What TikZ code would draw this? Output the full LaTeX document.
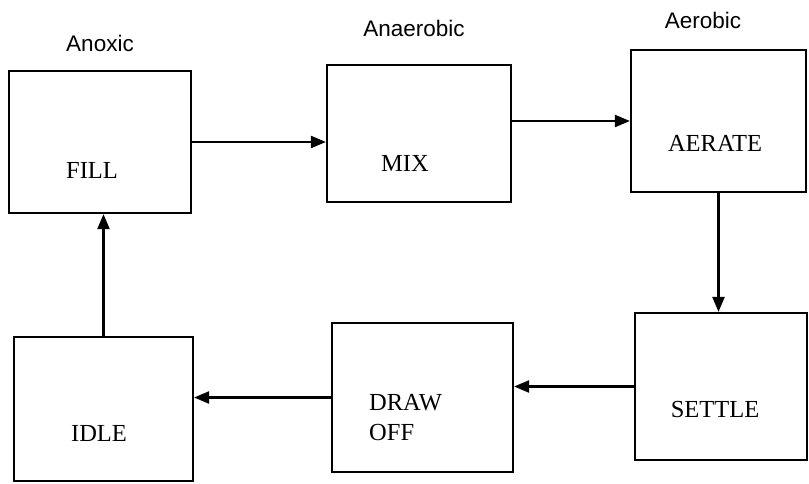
\documentclass[tikz,border=0pt]{standalone}
\usepackage{fontspec}
\setmainfont{Liberation Serif}
\setsansfont{Liberation Sans}
\usepackage{xcolor}
\usetikzlibrary{positioning,arrows.meta}

\begin{document}
\begin{tikzpicture}[x=1pt, y=-1pt,
  phase/.style={draw, line width=2.2pt, rectangle, inner sep=0pt},
  steptext/.style={font=\fontsize{24.5}{30}\selectfont, inner sep=0pt},
  condition/.style={font=\sffamily\fontsize{22.5}{26}\selectfont, inner sep=0pt},
  flow/.style={-{Triangle[length=15pt,width=12pt]}, line width=2.2pt},
]
  \useasboundingbox (0,0) rectangle (809,483);

  % Phase boxes
  \node[phase, minimum width=182pt, minimum height=142pt] (fill) at (100,142) {};
  \node[phase, minimum width=184pt, minimum height=137pt] (mix) at (419,133.5) {};
  \node[phase, minimum width=175pt, minimum height=142pt] (aerate) at (718.5,121) {};
  \node[phase, minimum width=172pt, minimum height=147pt] (settle) at (721,386.5) {};
  \node[phase, minimum width=181pt, minimum height=149pt] (drawoff) at (422.5,397.5) {};
  \node[phase, minimum width=179pt, minimum height=144pt] (idle) at (103.5,409) {};

  % Box texts
  \node[steptext] (filltxt) at (92,170) {FILL};
  \node[steptext] (mixtxt) at (405,163) {MIX};
  \node[steptext] (aeratetxt) at (715,143) {AERATE};
  \node[steptext] (settletxt) at (715,410) {SETTLE};
  \node[steptext, anchor=west, align=left] (drawofftxt) at (369,418) {DRAW\\OFF};
  \node[steptext] (idletxt) at (99,433) {IDLE};

  % Conditions
  \node[condition] (anoxic) at (100,43) {Anoxic};
  \node[condition] (anaerobic) at (414,28) {Anaerobic};
  \node[condition] (aerobic) at (703,20) {Aerobic};

  % Cycle
  \draw[flow] (fill.east) -- (fill.east -| mix.west);
  \draw[flow] (mix.east |- aerate.west) -- (aerate.west);
  \draw[flow] (aerate.south) -- (aerate.south |- settle.north);
  \draw[flow] (settle.west) -- (settle.west -| drawoff.east);
  \draw[flow] (drawoff.west) -- (drawoff.west -| idle.east);
  \draw[flow] (idle.north) -- (idle.north |- fill.south);

\end{tikzpicture}
\end{document}
